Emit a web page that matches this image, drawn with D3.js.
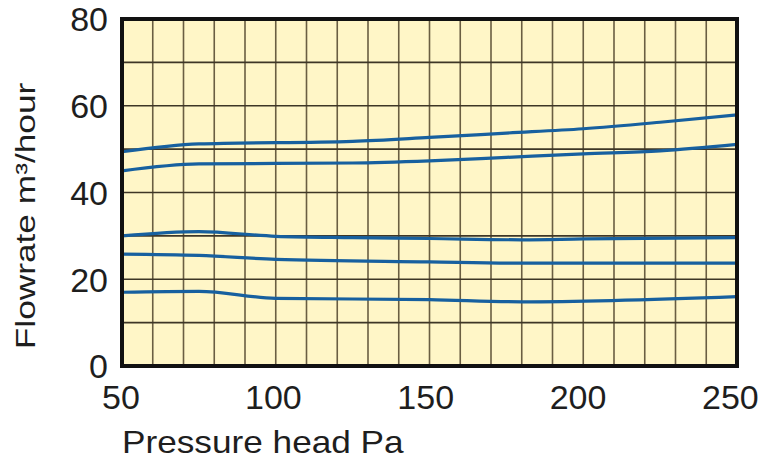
<!DOCTYPE html>
<html>
<head>
<meta charset="utf-8">
<script src="https://cdn.jsdelivr.net/npm/d3@7/dist/d3.min.js"></script>
<style>
  html, body { margin: 0; padding: 0; background: #ffffff; }
  svg { display: block; }
  text { font-family: "Liberation Sans", Arial, sans-serif; fill: #1e1e1e; }
</style>
</head>
<body>
<svg id="chart" width="762" height="460"></svg>
<script>
// Fan performance curves: flowrate versus pressure head
const xTickLabels = [50, 100, 150, 200, 250];
const yTickLabels = [0, 20, 40, 60, 80];

const curveA = [[50, 49.4], [75, 51.2], [125, 51.8], [150, 52.7], [175, 53.7], [200, 54.7], [225, 56.2], [250, 57.9]];
const curveB = [[50, 45.0], [75, 46.6], [125, 46.8], [150, 47.3], [175, 48.1], [200, 48.9], [225, 49.6], [250, 51.1]];
const curveC = [[50, 30.0], [75, 31.0], [100, 29.9], [125, 29.6], [150, 29.4], [180, 29.1], [200, 29.3], [250, 29.6]];
const curveD = [[50, 25.8], [75, 25.5], [100, 24.6], [150, 24.0], [180, 23.7], [250, 23.7]];
const curveE = [[50, 17.0], [75, 17.2], [100, 15.6], [150, 15.3], [180, 14.8], [250, 16.0]];
const curves = [curveA, curveB, curveC, curveD, curveE];

const svg = d3.select("#chart");
const plotL = 122, plotR = 737, plotT = 19, plotB = 366;

const x = d3.scaleLinear().domain([50, 250]).range([plotL, plotR]);
const y = d3.scaleLinear().domain([0, 80]).range([plotB, plotT]);

// plot background
svg.append("rect")
  .attr("x", plotL).attr("y", plotT)
  .attr("width", plotR - plotL).attr("height", plotB - plotT)
  .attr("fill", "#fff6c7");

// grid every 10 units
const grid = svg.append("g");
grid.selectAll("line.v").data(d3.range(60, 250, 10)).join("line")
  .attr("class", "v")
  .attr("x1", d => x(d)).attr("x2", d => x(d))
  .attr("y1", plotT).attr("y2", plotB)
  .attr("stroke", "#6a5e42").attr("stroke-width", 1.6);
grid.selectAll("line.h").data(d3.range(10, 80, 10)).join("line")
  .attr("class", "h")
  .attr("y1", d => y(d)).attr("y2", d => y(d))
  .attr("x1", plotL).attr("x2", plotR)
  .attr("stroke", "#3e3626").attr("stroke-width", 1.6);

// curves
const line = d3.line()
  .x(d => x(d[0]))
  .y(d => y(d[1]))
  .curve(d3.curveMonotoneX);

svg.append("g").selectAll("path").data(curves).join("path")
  .attr("d", line)
  .attr("fill", "none")
  .attr("stroke", "#17609f")
  .attr("stroke-width", 3.2)
  .attr("stroke-linejoin", "round");

// frame
svg.append("rect")
  .attr("x", plotL).attr("y", plotT)
  .attr("width", plotR - plotL).attr("height", plotB - plotT)
  .attr("fill", "none")
  .attr("stroke", "#111111").attr("stroke-width", 4);

// axes (labels only)
const xAxis = svg.append("g")
  .attr("transform", `translate(0,${plotB})`)
  .call(d3.axisBottom(x).tickValues(xTickLabels).tickSize(0).tickPadding(0));
xAxis.select(".domain").remove();
xAxis.selectAll("text")
  .attr("y", 43).attr("dy", null)
  .attr("dx", d => -1.5 - (d - 50) * 0.028)
  .style("font-size", "34px")
  .style("font-family", "'Liberation Sans', Arial, sans-serif")
  .attr("fill", "#1e1e1e");

const yAxis = svg.append("g")
  .attr("transform", `translate(${plotL},0)`)
  .call(d3.axisLeft(y).tickValues(yTickLabels).tickSize(0).tickPadding(0));
yAxis.select(".domain").remove();
yAxis.selectAll("text")
  .attr("x", -14).attr("dy", "0.35em")
  .style("font-size", "34px")
  .style("font-family", "'Liberation Sans', Arial, sans-serif")
  .attr("fill", "#1e1e1e");

// axis titles
svg.append("text")
  .attr("transform", "translate(122,453) scale(1.1,1)")
  .attr("text-anchor", "start")
  .style("font-size", "32px")
  .text("Pressure head Pa");

svg.append("text")
  .attr("transform", "translate(35,216) rotate(-90) scale(1.26,1)")
  .attr("text-anchor", "middle")
  .style("font-size", "28px")
  .text("Flowrate m³/hour");
</script>
</body>
</html>
